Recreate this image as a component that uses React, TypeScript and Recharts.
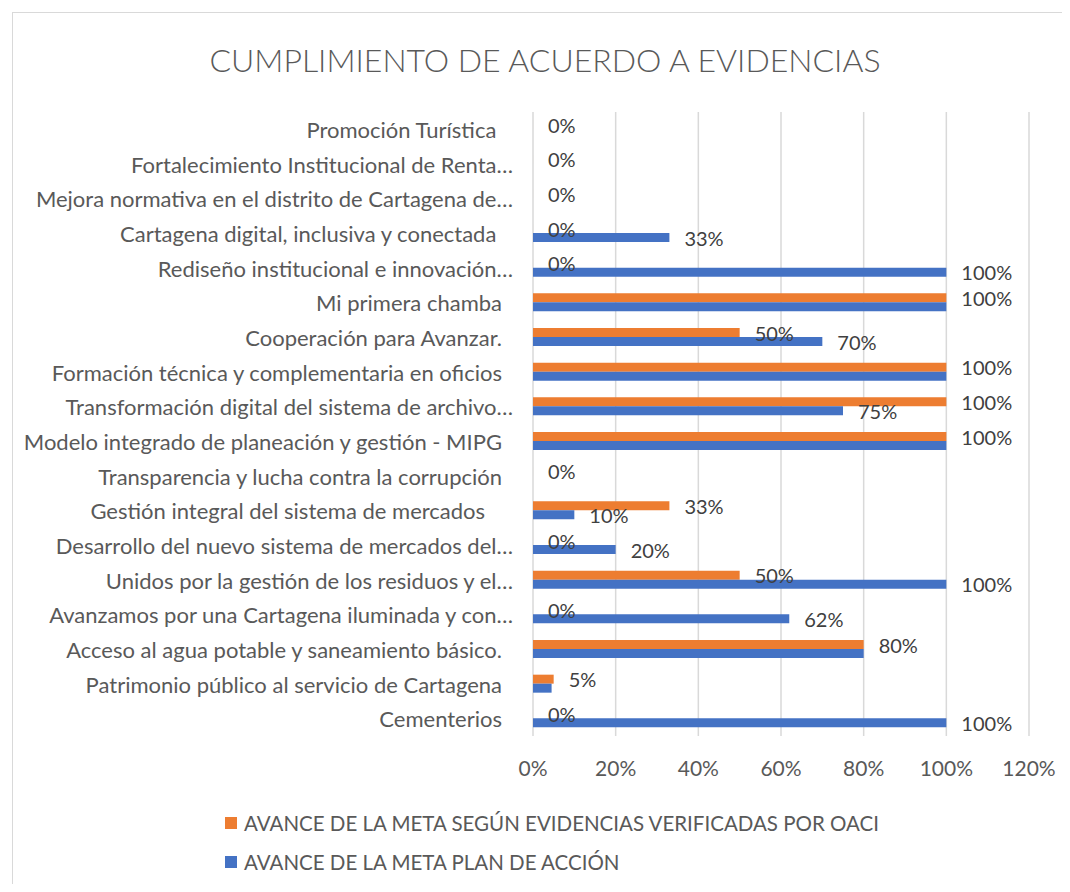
import React from "react";
import {
  BarChart,
  Bar,
  XAxis,
  YAxis,
  CartesianGrid,
  Legend,
  LabelList,
} from "recharts";

const categories = [
  "Promoción Turística ",
  "Fortalecimiento Institucional de Renta…",
  "Mejora normativa en el distrito de Cartagena de…",
  "Cartagena digital, inclusiva y conectada ",
  "Rediseño institucional e innovación…",
  "Mi primera chamba",
  "Cooperación para Avanzar.",
  "Formación técnica y complementaria en oficios",
  "Transformación digital del sistema de archivo…",
  "Modelo integrado de planeación y gestión - MIPG",
  "Transparencia y lucha contra la corrupción",
  "Gestión integral del sistema de mercados   ",
  "Desarrollo del nuevo sistema de mercados del…",
  "Unidos por la gestión de los residuos y el…",
  "Avanzamos por una Cartagena iluminada y con…",
  "Acceso al agua potable y saneamiento básico.",
  "Patrimonio público al servicio de Cartagena",
  "Cementerios",
];

// avance según evidencias verificadas por OACI
const oaciValues = [0, 0, 0, 0, 0, 1, 0.5, 1, 1, 1, 0, 0.33, 0, 0.5, 0, 0.8, 0.05, 0];
// avance plan de acción (null = sin dato)
const planValues = [null, null, null, 0.33, 1, 1, 0.7, 1, 0.75, 1, null, 0.1, 0.2, 1, 0.62, 0.8, 0.045, 1];

const xTicks = [0, 0.2, 0.4, 0.6, 0.8, 1, 1.2];

const seriesNames = {
  oaci: "AVANCE DE LA META SEGÚN EVIDENCIAS VERIFICADAS POR OACI",
  plan: "AVANCE DE LA META PLAN DE ACCIÓN",
};

const ORANGE = "#ED7D31";
const BLUE = "#4472C4";
const FONT = "Lato, 'Noto Sans', sans-serif";

const pct = (v: number) => `${Math.round(v * 100)}%`;

const data = categories.map((name, i) => {
  const o = oaciValues[i];
  const p = planValues[i];
  return {
    name,
    oaci: o,
    plan: p,
    oaciLabel: o === null ? null : pct(o),
    // the plan label is left out where it would repeat the OACI one
    planLabel: p === null || (o !== null && pct(o) === pct(p)) ? null : pct(p),
  };
});

function CategoryTick(props: any) {
  const { x, y, payload } = props;
  const label: string = payload.value;
  // truncated labels let their ellipsis run past the common right edge
  const endX = label.endsWith("…") ? x : x - 11;
  return (
    <text
      x={endX}
      y={y}
      textAnchor="end"
      dominantBaseline="central"
      fill="#595959"
      fontSize={22}
      fontFamily={FONT}
      style={{ whiteSpace: "pre" }}
    >
      {label}
    </text>
  );
}

function BarValue(props: any) {
  const { x, y, width, height, value } = props;
  if (value === null || value === undefined) return null;
  return (
    <text
      x={x + width + 15}
      y={y + height / 2}
      dominantBaseline="central"
      fill="#404040"
      fontSize={20}
      fontFamily={FONT}
    >
      {value}
    </text>
  );
}

function LegendBox() {
  const items = [
    { key: "oaci", color: ORANGE },
    { key: "plan", color: BLUE },
  ] as const;
  return (
    <div style={{ fontFamily: FONT, fontSize: 20.5, color: "#595959" }}>
      {items.map((it) => (
        <div
          key={it.key}
          style={{ display: "flex", alignItems: "center", height: 39 }}
        >
          <span
            style={{
              width: 12,
              height: 12,
              background: it.color,
              marginRight: 7,
              display: "inline-block",
              flex: "none",
            }}
          />
          <span style={{ whiteSpace: "nowrap" }}>{seriesNames[it.key]}</span>
        </div>
      ))}
    </div>
  );
}

const zeroSliver = (value: number) => (value === 0 ? 0.01 : 0);

export default function App() {
  return (
    <div
      style={{
        position: "relative",
        width: 1062,
        height: 876,
        overflow: "hidden",
        background: "#fff",
      }}
    >
      <div
        style={{
          position: "absolute",
          left: 4,
          top: 4,
          width: 1200,
          height: 1000,
          borderTop: "1px solid #d9d9d9",
          borderLeft: "1px solid #d9d9d9",
        }}
      />
      <div
        style={{
          position: "absolute",
          left: 0,
          top: 32,
          width: 1074,
          textAlign: "center",
          fontFamily: FONT,
          fontSize: 32,
          fontWeight: 300,
          color: "#595959",
        }}
      >
        CUMPLIMIENTO DE ACUERDO A EVIDENCIAS
      </div>
      <BarChart
        width={1062}
        height={876}
        data={data}
        layout="vertical"
        barSize={9}
        barGap={0}
        margin={{ top: 104, right: 41, left: 0, bottom: 108 }}
      >
        <CartesianGrid horizontal={false} stroke="#d9d9d9" strokeWidth={1.5} />
        <XAxis
          type="number"
          domain={[0, 1.2]}
          ticks={xTicks}
          tickFormatter={pct}
          axisLine={false}
          tickLine={false}
          tickMargin={19}
          height={40}
          tick={{ fill: "#595959", fontSize: 21, fontFamily: FONT }}
        />
        <YAxis
          type="category"
          dataKey="name"
          width={525}
          axisLine={false}
          tickLine={false}
          tickMargin={14}
          interval={0}
          tick={<CategoryTick />}
        />
        <Legend
          layout="horizontal"
          verticalAlign="middle"
          align="center"
          content={() => <LegendBox />}
          wrapperStyle={{ left: 217, top: 795, width: 780, height: 80 }}
        />
        <Bar
          dataKey="oaci"
          name={seriesNames.oaci}
          fill={ORANGE}
          minPointSize={zeroSliver}
          isAnimationActive={false}
        >
          <LabelList dataKey="oaciLabel" content={<BarValue />} />
        </Bar>
        <Bar
          dataKey="plan"
          name={seriesNames.plan}
          fill={BLUE}
          isAnimationActive={false}
        >
          <LabelList dataKey="planLabel" content={<BarValue />} />
        </Bar>
      </BarChart>
    </div>
  );
}
